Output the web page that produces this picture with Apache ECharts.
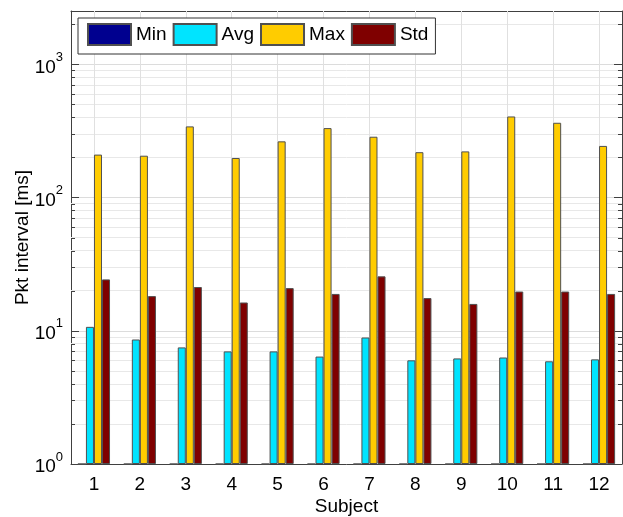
<!DOCTYPE html>
<html>
<head>
<meta charset="utf-8">
<script src="https://cdn.jsdelivr.net/npm/echarts@6/dist/echarts.min.js"></script>
<style>
html,body{margin:0;padding:0;background:#fff;}
#chart{width:623px;height:517px;}
</style>
</head>
<body>
<div id="chart"></div>
<script>
const categories = ['1','2','3','4','5','6','7','8','9','10','11','12'];
const minVals = [1,1,1,1,1,1,1,1,1,1,1,1];
const avgVals = [10.7, 8.6, 7.5, 7.0, 7.0, 6.4, 8.9, 6.0, 6.2, 6.3, 5.9, 6.1];
const maxVals = [210, 206, 342, 198, 264, 332, 286, 219, 222, 406, 364, 244];
const stdVals = [24.3, 18.2, 21.3, 16.3, 20.9, 18.9, 25.6, 17.6, 15.9, 19.7, 19.7, 18.9];
const minorGrid = [2,3,4,5,6,7,8,9,20,30,40,50,60,70,80,90,200,300,400,500,600,700,800,900,2000];
const seriesNames = ['Min','Avg','Max','Std'];
const seriesColors = ['#00008f','#00e4ff','#ffcc00','#7f0000'];

const FONT = 'Liberation Sans, Arial, Helvetica, sans-serif';
const chart = echarts.init(document.getElementById('chart'), null, {renderer:'canvas'});

function logLabel(v){
  const e = Math.log10(v);
  const r = Math.round(e);
  if (Math.abs(e - r) > 1e-6) return '';
  return '{b|10}{e|' + r + '}';
}

const axisLineStyle = {color:'#404040', width:1};
const gridMarkLines = [];
minorGrid.forEach(v => gridMarkLines.push({yAxis: v, lineStyle:{color:'#e8e8e8', width:1, type:'solid'}}));
categories.forEach(c => gridMarkLines.push({xAxis: c, lineStyle:{color:'#e0e0e0', width:1, type:'solid'}}));

const barSeries = seriesNames.map((n,i) => ({
  name: n,
  type: 'bar',
  data: [minVals, avgVals, maxVals, stdVals][i],
  barGap: '0%',
  barCategoryGap: '30%',
  itemStyle: {color: seriesColors[i], borderColor: '#505050', borderWidth: 1},
  z: 3
}));

const minorTickSeries = {
  name: 'minorTicks',
  type: 'custom',
  silent: true,
  z: 4,
  data: minorGrid.map(v => [0, v]),
  encode: {x: 0, y: 1},
  renderItem: function(params, api){
    const y = Math.round(api.coord([0, api.value(1)])[1]) + 0.5;
    const cs = params.coordSys;
    return {
      type: 'group',
      children: [
        {type: 'line', shape: {x1: cs.x, y1: y, x2: cs.x + 4, y2: y}, style: {stroke: '#404040', lineWidth: 1}},
        {type: 'line', shape: {x1: cs.x + cs.width - 4, y1: y, x2: cs.x + cs.width, y2: y}, style: {stroke: '#404040', lineWidth: 1}}
      ]
    };
  }
};

chart.setOption({
  animation: false,
  textStyle: {fontFamily: FONT},
  grid: {left: 71, right: 1, top: 11, bottom: 53, containLabel: false, outerBoundsMode: 'none'},
  legend: {
    data: seriesNames,
    left: 78, top: 18,
    orient: 'horizontal',
    itemWidth: 43, itemHeight: 21, itemGap: 6,
    padding: [5, 7, 8, 9],
    backgroundColor: '#fff',
    borderColor: '#333', borderWidth: 1,
    textStyle: {fontSize: 19, color: '#000', fontFamily: FONT},
    icon: 'rect',
    z: 10
  },
  xAxis: [{
    type: 'category',
    data: categories,
    position: 'bottom',
    name: 'Subject',
    nameLocation: 'middle',
    nameGap: 33,
    nameMoveOverlap: false,
    nameTextStyle: {fontSize: 19, color: '#000', fontFamily: FONT},
    axisLine: {lineStyle: axisLineStyle},
    axisTick: {inside: true, alignWithLabel: true, length: 5, lineStyle: axisLineStyle},
    axisLabel: {fontSize: 19, color: '#000', margin: 11, fontFamily: FONT},
    splitLine: {show: false}
  },{
    type: 'category',
    data: categories,
    position: 'top',
    axisLine: {lineStyle: axisLineStyle},
    axisTick: {inside: true, alignWithLabel: true, length: 5, lineStyle: axisLineStyle},
    axisLabel: {show: false},
    splitLine: {show: false}
  }],
  yAxis: [{
    type: 'log',
    logBase: 10,
    min: 1,
    max: 2512,
    position: 'left',
    name: 'Pkt interval [ms]',
    nameLocation: 'middle',
    nameGap: 39,
    nameMoveOverlap: false,
    nameTextStyle: {fontSize: 19, color: '#000', fontFamily: FONT},
    axisLine: {show: true, lineStyle: axisLineStyle},
    axisTick: {show: true, inside: true, length: 8, lineStyle: axisLineStyle},
    axisLabel: {
      formatter: logLabel,
      margin: 8,
      rich: {
        b: {fontSize: 19, color: '#000', fontFamily: FONT, padding: [6,0,0,0]},
        e: {fontSize: 13, color: '#000', fontFamily: FONT, padding: [0,0,14,0]}
      }
    },
    splitLine: {show: true, lineStyle: {color: '#dcdcdc', width: 1}}
  },{
    type: 'log',
    logBase: 10,
    min: 1,
    max: 2512,
    position: 'right',
    axisLine: {show: true, lineStyle: axisLineStyle},
    axisTick: {show: true, inside: true, length: 8, lineStyle: axisLineStyle},
    axisLabel: {show: false},
    splitLine: {show: false}
  }],
  series: [{
    name: 'grid',
    type: 'line',
    data: [],
    z: 1,
    silent: true,
    markLine: {
      silent: true,
      z: 1,
      symbol: ['none','none'],
      label: {show: false},
      animation: false,
      data: gridMarkLines
    }
  }].concat(barSeries, [minorTickSeries])
});
</script>
</body>
</html>
